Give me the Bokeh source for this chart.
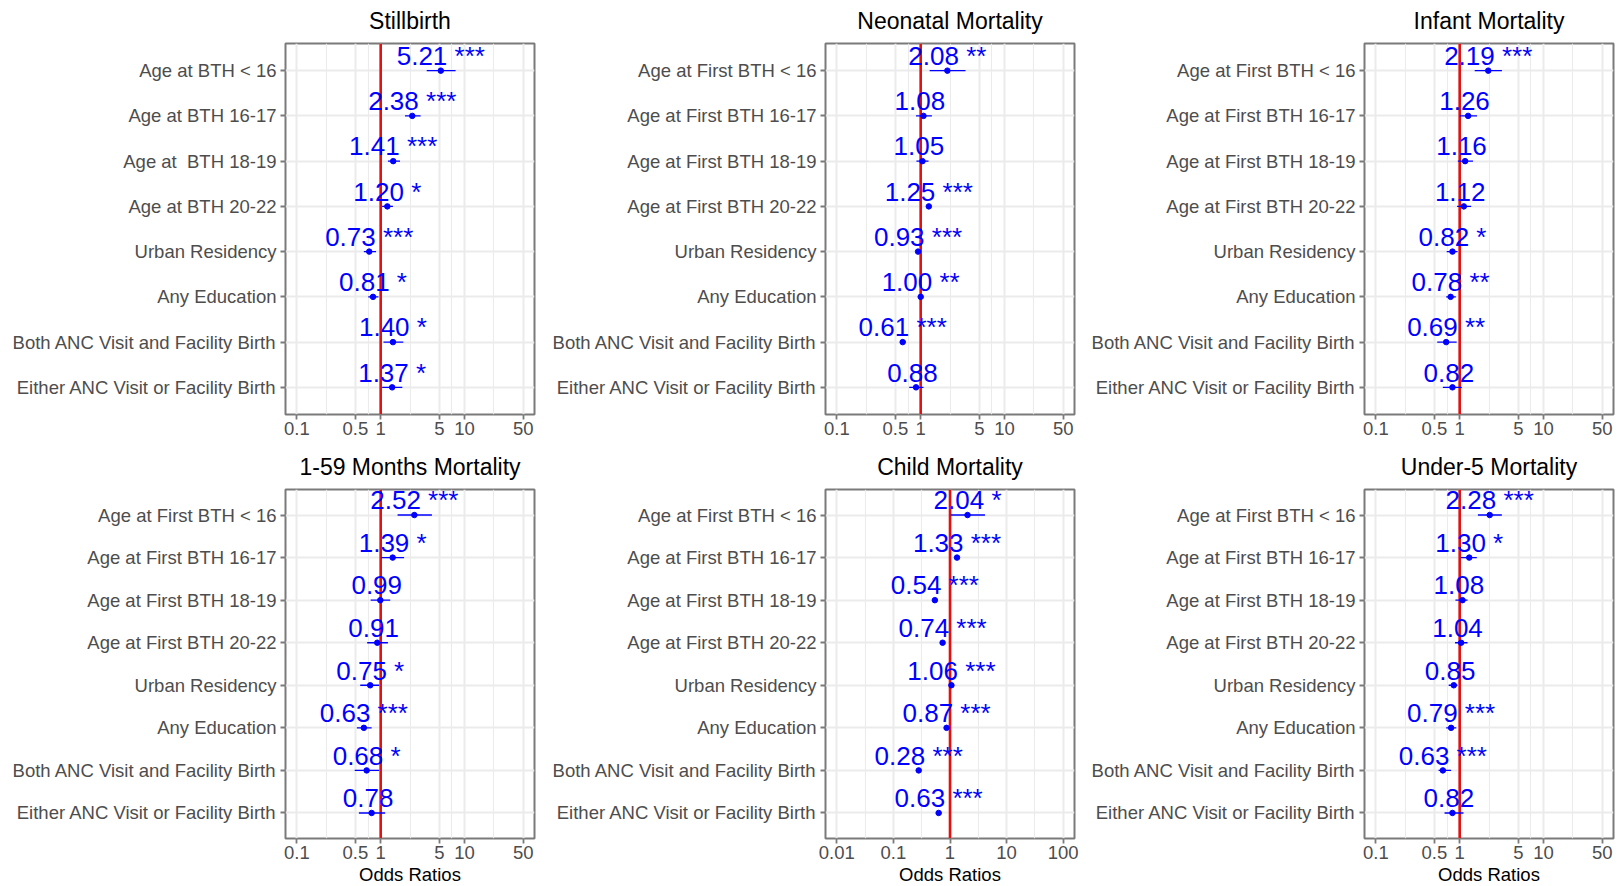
from bokeh.plotting import figure
from bokeh.layouts import row, column
from bokeh.models import Range1d, FixedTicker, CustomJSTickFormatter, Span, ColumnDataSource
from bokeh.core.properties import value
from bokeh.embed import file_html
from bokeh.resources import INLINE
import math

# ---------------- data ----------------
labels_still = ["Age at BTH < 16", "Age at BTH 16-17", "Age at\u00a0 BTH 18-19", "Age at BTH 20-22",
                "Urban Residency", "Any Education", "Both ANC Visit and Facility Birth",
                "Either ANC Visit or Facility Birth"]
labels_first = ["Age at First BTH < 16", "Age at First BTH 16-17", "Age at First BTH 18-19",
                "Age at First BTH 20-22", "Urban Residency", "Any Education",
                "Both ANC Visit and Facility Birth", "Either ANC Visit or Facility Birth"]

still_or = [5.21, 2.38, 1.41, 1.20, 0.73, 0.81, 1.40, 1.37]
still_lo = [3.54, 1.95, 1.22, 1.04, 0.63, 0.71, 1.08, 1.04]
still_hi = [7.82, 2.99, 1.70, 1.40, 0.88, 0.94, 1.86, 1.81]
still_sig = ["***", "***", "***", "*", "***", "*", "*", "*"]

neo_or = [2.08, 1.08, 1.05, 1.25, 0.93, 1.00, 0.61, 0.88]
neo_lo = [1.28, 0.88, 0.89, 1.18, 0.89, 0.98, 0.57, 0.73]
neo_hi = [3.42, 1.36, 1.24, 1.33, 0.97, 1.02, 0.66, 1.08]
neo_sig = ["**", "", "", "***", "***", "**", "***", ""]

inf_or = [2.19, 1.26, 1.16, 1.12, 0.82, 0.78, 0.69, 0.82]
inf_lo = [1.51, 1.00, 0.95, 0.93, 0.70, 0.69, 0.54, 0.63]
inf_hi = [3.19, 1.61, 1.44, 1.37, 0.945, 0.90, 0.92, 1.06]
inf_sig = ["***", "", "", "", "*", "**", "**", ""]

m159_or = [2.52, 1.39, 0.99, 0.91, 0.75, 0.63, 0.68, 0.78]
m159_lo = [1.59, 1.01, 0.76, 0.69, 0.57, 0.52, 0.49, 0.55]
m159_hi = [4.08, 1.90, 1.30, 1.22, 0.96, 0.78, 0.96, 1.13]
m159_sig = ["***", "*", "", "", "*", "***", "*", ""]

child_or = [2.04, 1.33, 0.54, 0.74, 1.06, 0.87, 0.28, 0.63]
child_lo = [1.03, 1.21, 0.49, 0.68, 0.98, 0.80, 0.25, 0.57]
child_hi = [4.15, 1.46, 0.60, 0.81, 1.15, 0.95, 0.31, 0.70]
child_sig = ["*", "***", "***", "***", "***", "***", "***", "***"]

u5_or = [2.28, 1.30, 1.08, 1.04, 0.85, 0.79, 0.63, 0.82]
u5_lo = [1.65, 1.03, 0.89, 0.88, 0.74, 0.69, 0.56, 0.66]
u5_hi = [3.18, 1.60, 1.24, 1.24, 0.94, 0.91, 0.79, 1.11]
u5_sig = ["***", "*", "", "", "", "***", "***", ""]

ticks_std = [0.1, 0.5, 1, 5, 10, 50]
ticks_child = [0.01, 0.1, 1, 10, 100]

FONT = "Liberation Sans"
FRAME_COL = "#7A7A7A"


def make_panel(title, labels, ors, lo, hi, sig, ticks, top_row, mb_left, mb_right):
    n = len(labels)
    lmin, lmax = min(ticks), max(ticks)
    span = math.log10(lmax / lmin)
    xr = Range1d(lmin / 10 ** (0.05 * span), lmax * 10 ** (0.05 * span))
    yr = Range1d(1 - 0.6, n + 0.6)
    if top_row:
        fh, mbt, mbb = 371, 42, 27
    else:
        fh, mbt, mbb = 349, 48, 48
    p = figure(x_axis_type="log", x_range=xr, y_range=yr, frame_width=249, frame_height=fh,
               min_border_left=mb_left, min_border_right=mb_right, min_border_top=mbt,
               min_border_bottom=mbb, output_backend="svg", toolbar_location=None,
               title=title, background_fill_color="white", border_fill_color="white")
    p.title.text_font = FONT
    p.title.text_font_size = "23px"
    p.title.text_font_style = "normal"
    p.title.text_color = "black"
    p.title.align = "center"
    p.title.vertical_align = "top"
    p.title.standoff = 15

    p.outline_line_color = FRAME_COL
    p.outline_line_width = 2

    # x axis
    logs = [math.log10(t) for t in ticks]
    minor = [10 ** ((a + b) / 2) for a, b in zip(logs[:-1], logs[1:])]
    p.xaxis.ticker = FixedTicker(ticks=ticks, minor_ticks=minor)
    p.xaxis.formatter = CustomJSTickFormatter(code="return String(Number(tick.toPrecision(6)));")
    p.xaxis.axis_line_color = None
    p.xaxis.major_tick_line_color = FRAME_COL
    p.xaxis.major_tick_line_width = 1.8
    p.xaxis.major_tick_out = 5
    p.xaxis.major_tick_in = 0
    p.xaxis.minor_tick_line_color = None
    p.xaxis.major_label_standoff = 2
    p.xaxis.major_label_text_font = FONT
    p.xaxis.major_label_text_font_size = "18.5px"
    p.xaxis.major_label_text_color = "#4D4D4D"
    if not top_row:
        p.xaxis.axis_label = "Odds Ratios"
        p.xaxis.axis_label_text_font = FONT
        p.xaxis.axis_label_text_font_size = "18.5px"
        p.xaxis.axis_label_text_font_style = "normal"
        p.xaxis.axis_label_text_color = "black"
        p.xaxis.axis_label_standoff = 2

    # y axis (categories, top first)
    ypos = [n - i for i in range(n)]
    p.yaxis.ticker = FixedTicker(ticks=list(range(1, n + 1)))
    p.yaxis.formatter = CustomJSTickFormatter(
        args=dict(labels=labels, n=n),
        code="const i = Math.round(n - tick); return (i >= 0 && i < labels.length) ? labels[i] : '';")
    p.yaxis.axis_line_color = None
    p.yaxis.major_tick_line_color = FRAME_COL
    p.yaxis.major_tick_line_width = 1.8
    p.yaxis.major_tick_out = 5
    p.yaxis.major_tick_in = 0
    p.yaxis.minor_tick_line_color = None
    p.yaxis.major_label_standoff = 4
    p.yaxis.major_label_text_font = FONT
    p.yaxis.major_label_text_font_size = "18.5px"
    p.yaxis.major_label_text_color = "#4D4D4D"

    # grid
    p.xgrid.grid_line_color = "#EBEBEB"
    p.xgrid.grid_line_width = 2
    p.xgrid.minor_grid_line_color = "#EBEBEB"
    p.xgrid.minor_grid_line_width = 1.1
    p.ygrid.grid_line_color = "#EBEBEB"
    p.ygrid.grid_line_width = 2

    p.add_layout(Span(location=1, dimension="height", line_color="#E41010", line_width=2.6,
                      level="underlay"))

    txt = [f"{o:.2f} {s}" if s else f"{o:.2f}" for o, s in zip(ors, sig)]
    xoff = [0 if s else -3.6 for s in sig]
    src = ColumnDataSource(dict(y=ypos, o=ors, lo=lo, hi=hi, txt=txt, xoff=xoff))
    p.segment(x0="lo", x1="hi", y0="y", y1="y", source=src, line_color="blue", line_width=1.4)
    p.scatter(x="o", y="y", source=src, size=5.5, fill_color="blue", line_color="blue")
    p.text(x="o", y="y", text="txt", source=src, text_align="center", text_baseline="alphabetic",
           y_offset=-14.7, x_offset="xoff", text_font=value(FONT), text_font_size="26px",
           text_color="blue")
    return p


p1 = make_panel("Stillbirth", labels_still, still_or, still_lo, still_hi, still_sig, ticks_std, True, 285, 6)
p2 = make_panel("Neonatal Mortality", labels_first, neo_or, neo_lo, neo_hi, neo_sig, ticks_std, True, 285, 6)
p3 = make_panel("Infant Mortality", labels_first, inf_or, inf_lo, inf_hi, inf_sig, ticks_std, True, 284, 3)
p4 = make_panel("1-59 Months Mortality", labels_first, m159_or, m159_lo, m159_hi, m159_sig, ticks_std, False, 285, 6)
p5 = make_panel("Child Mortality", labels_first, child_or, child_lo, child_hi, child_sig, ticks_child, False, 285, 6)
p6 = make_panel("Under-5 Mortality", labels_first, u5_or, u5_lo, u5_hi, u5_sig, ticks_std, False, 284, 3)

layout = column(row(p1, p2, p3), row(p4, p5, p6))
open("out.html", "w").write(file_html(layout, INLINE))
